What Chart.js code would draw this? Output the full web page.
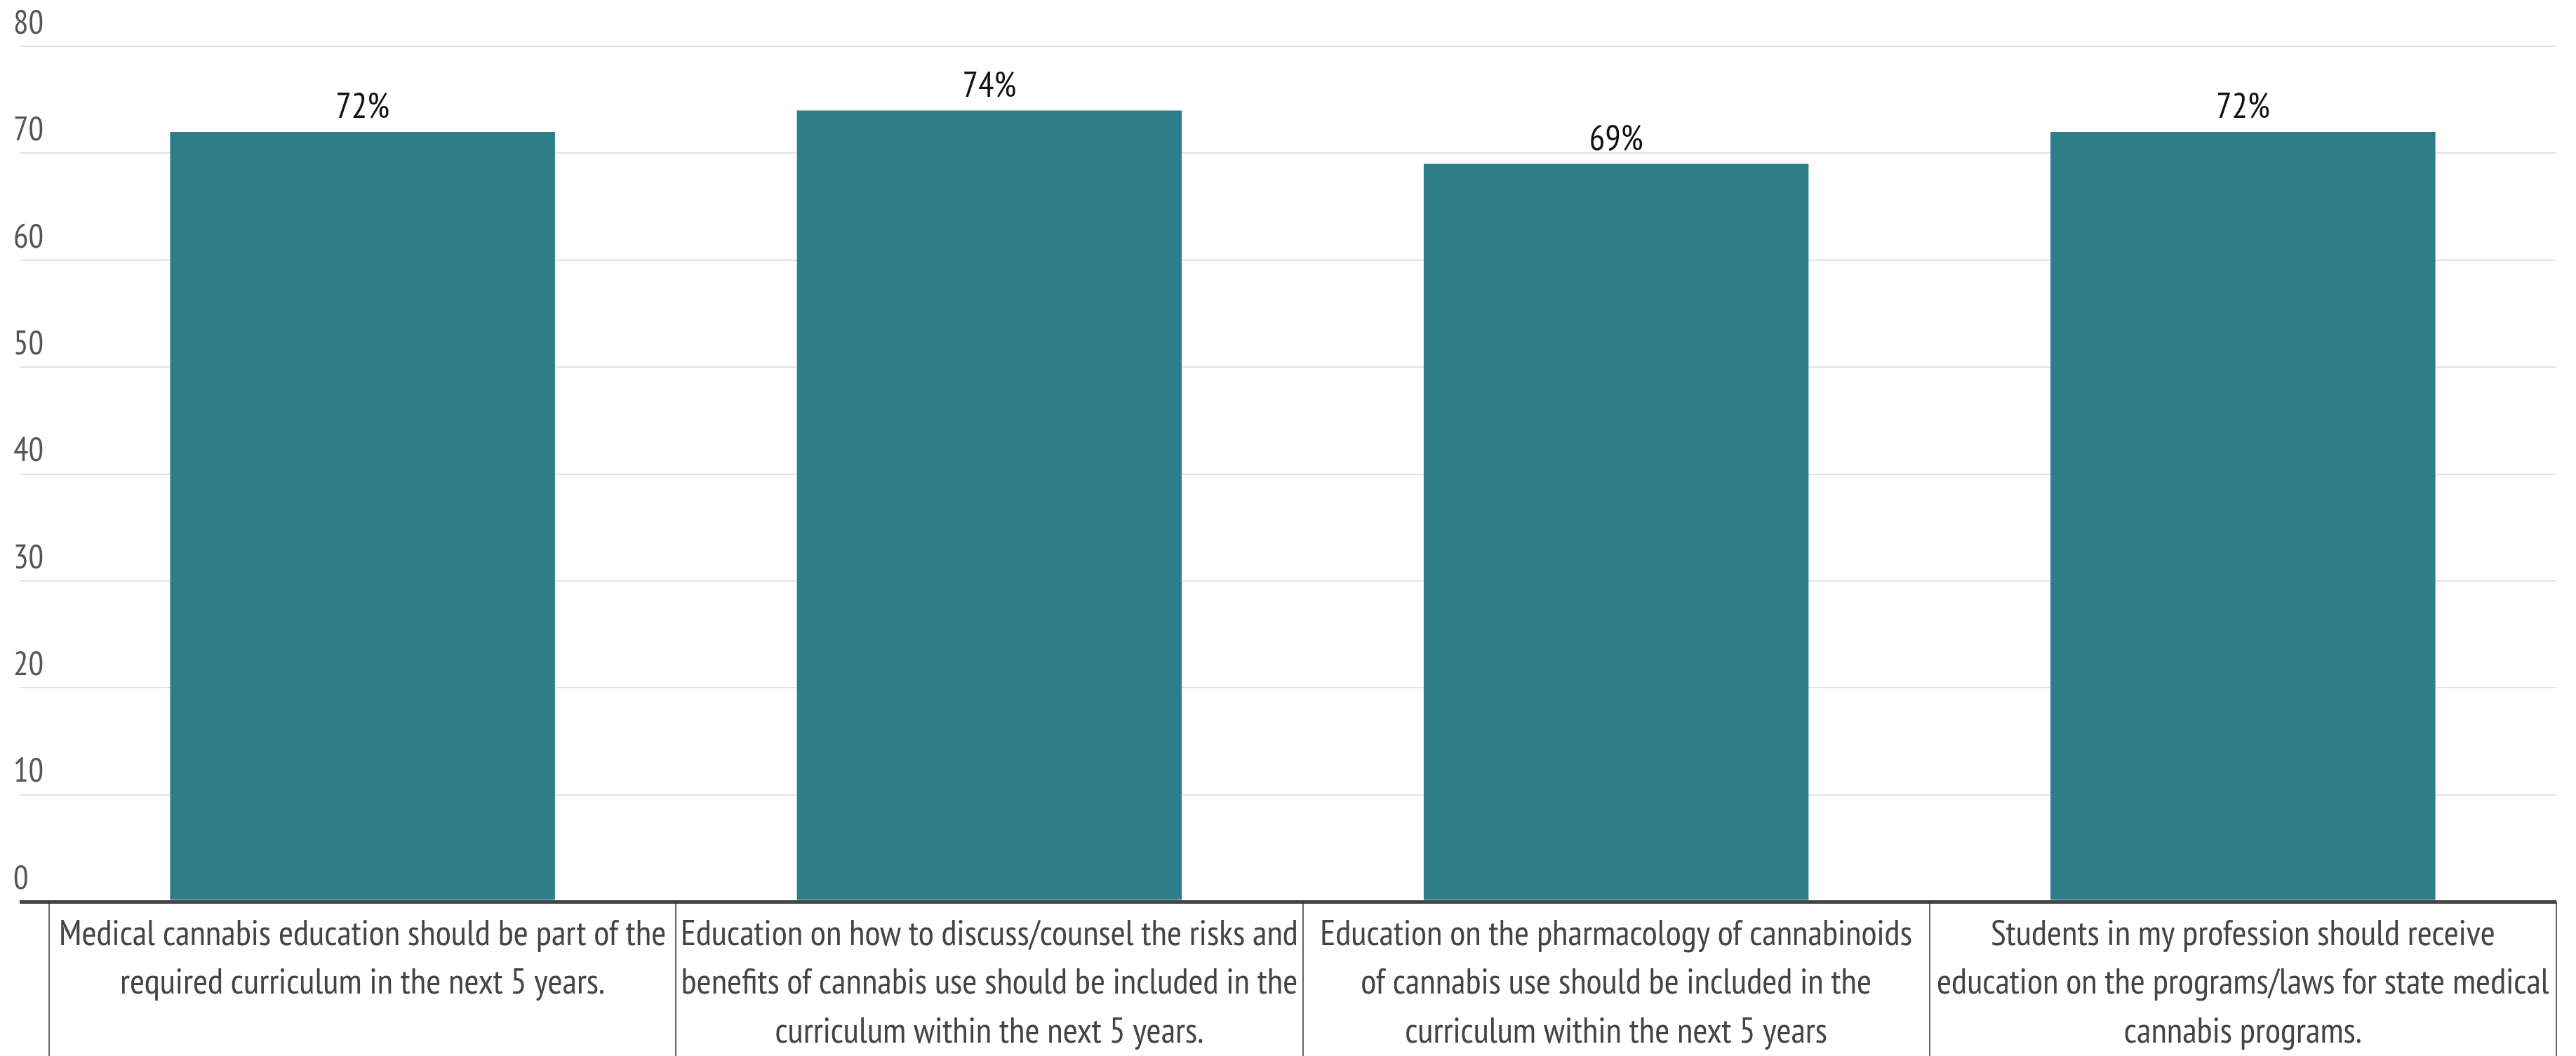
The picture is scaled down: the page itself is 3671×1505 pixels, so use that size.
<!DOCTYPE html>
<html>
<head>
<meta charset="utf-8">
<script src="https://cdn.jsdelivr.net/npm/chart.js@4.4.1/dist/chart.umd.min.js"></script>
<style>
  html, body { margin: 0; padding: 0; background: #fff; }
  #wrap { width: 3671px; height: 1505px; }
</style>
</head>
<body>
<div id="wrap"><canvas id="chart" width="3671" height="1505"></canvas></div>
<script>
// ==== Data ====
const categories = [
    ['Medical cannabis education should be part of the', 'required curriculum in the next 5 years.'],
    ['Education on how to discuss/counsel the risks and', 'benefits of cannabis use should be included in the', 'curriculum within the next 5 years.'],
    ['Education on the pharmacology of cannabinoids', 'of cannabis use should be included in the', 'curriculum within the next 5 years'],
    ['Students in my profession should receive', 'education on the programs/laws for state medical', 'cannabis programs.']
];
const agreePct = [72, 74, 69, 72];
const yTicks = [0, 10, 20, 30, 40, 50, 60, 70, 80];

const FONT = "'Liberation Sans Narrow', 'PT Sans Narrow', 'DejaVu Sans Condensed', sans-serif";

// draw "72%" etc above each bar
const valueLabels = {
    id: 'valueLabels',
    afterDatasetsDraw(chart) {
        const ctx = chart.ctx;
        const meta = chart.getDatasetMeta(0);
        ctx.save();
        ctx.font = '50px ' + FONT;
        ctx.fillStyle = '#111';
        ctx.textAlign = 'center';
        ctx.textBaseline = 'middle';
        meta.data.forEach((bar, i) => {
            ctx.fillText(agreePct[i] + '%', bar.x, bar.y - 34);
        });
        ctx.restore();
    }
};

const chart = new Chart(document.getElementById('chart').getContext('2d'), {
    type: 'bar',
    data: {
        labels: categories,
        datasets: [{
            data: agreePct,
            backgroundColor: '#2d7e88',
            barPercentage: 0.614,
            categoryPercentage: 1
        }]
    },
    options: {
        responsive: false,
        animation: false,
        layout: { padding: { top: 66, left: 28, right: 28, bottom: 0 } },
        plugins: {
            legend: { display: false },
            tooltip: { enabled: false }
        },
        scales: {
            x: {
                border: { display: false },
                afterFit(axis) { axis.height = 220; },
                grid: {
                    display: true,
                    drawOnChartArea: false,
                    drawTicks: true,
                    tickLength: 222,
                    color: '#666',
                    lineWidth: 2
                },
                ticks: {
                    autoSkip: false,
                    maxRotation: 0,
                    minRotation: 0,
                    padding: -210,
                    color: '#444',
                    font: { family: FONT, size: 51, lineHeight: 1.37 }
                }
            },
            y: {
                min: 0,
                max: 80,
                afterBuildTicks(axis) {
                    axis.ticks = yTicks.map(v => ({ value: v }));
                },
                afterFit(axis) { axis.width = 42; },
                border: { display: false },
                grid: {
                    color: c => c.tick && c.tick.value === 0 ? '#444' : '#e2e2e2',
                    lineWidth: c => c.tick && c.tick.value === 0 ? 5 : 2,
                    tickLength: 42
                },
                ticks: {
                    mirror: true,
                    padding: -51,
                    labelOffset: -32,
                    color: '#555',
                    font: { family: FONT, size: 48 }
                }
            }
        }
    },
    plugins: [valueLabels]
});
</script>
</body>
</html>
